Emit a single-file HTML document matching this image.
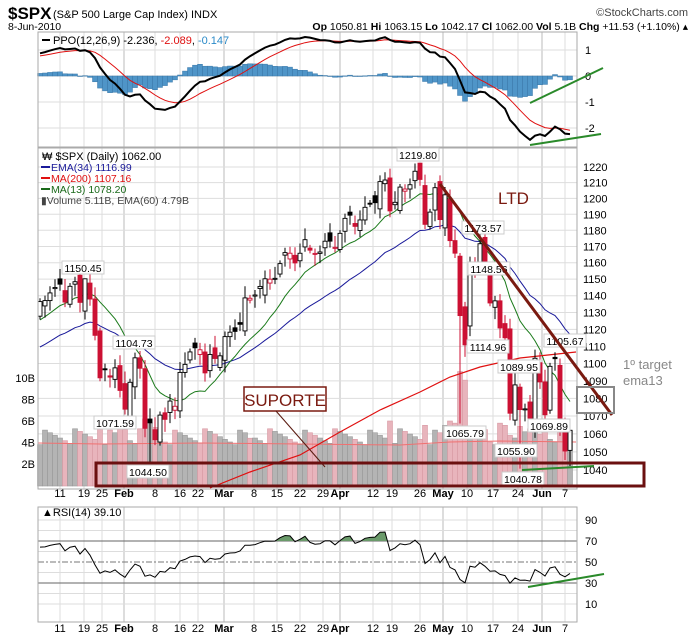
<!DOCTYPE html>
<html><head><meta charset="utf-8"><style>
body{margin:0;background:#fff;width:694px;height:639px;overflow:hidden}
svg{display:block;font-family:"Liberation Sans",sans-serif}
</style></head><body>
<svg id="s" width="694" height="639" viewBox="0 0 694 639" xmlns="http://www.w3.org/2000/svg">
<text x="8" y="19" font-size="17" font-weight="bold">$SPX</text>
<text x="53" y="18" font-size="11">(S&amp;P 500 Large Cap Index) INDX</text>
<text x="688" y="16" font-size="11" text-anchor="end" fill="#444">©StockCharts.com</text>
<text x="8" y="30" font-size="10.5">8-Jun-2010</text>
<text x="688" y="30" font-size="10.5" text-anchor="end"><tspan font-weight="bold">Op</tspan> 1050.81 <tspan font-weight="bold">Hi</tspan> 1063.15 <tspan font-weight="bold">Lo</tspan> 1042.17 <tspan font-weight="bold">Cl</tspan> 1062.00 <tspan font-weight="bold">Vol</tspan> 5.1B <tspan font-weight="bold">Chg</tspan> +11.53 (+1.10%) ▴</text>
<g id="g"></g>
</svg>
<script>
var C=[1136.5,1137.1,1141.7,1144.98,1146.98,1136.22,1145.68,1148.46,1136.03,1150.23,1138.04,1116.48,1091.76,1096.78,1092.17,1097.5,1084.53,1073.87,
1089.19,1103.32,1097.28,1063.11,1066.19,1056.74,1070.52,1068.13,1078.47,1075.51,1094.87,1099.51,1106.75,1109.17,1108.01,1094.6,1105.24,1102.94,1104.49,
1115.71,1118.31,1118.79,1122.97,1138.7,1138.5,1140.45,1145.61,1150.24,1149.99,1150.51,1159.46,1166.21,1165.83,1159.9,1165.81,1174.17,1167.72,1165.73,1166.59,1173.22,1173.27,1169.43,
1178.1,1187.44,1189.44,1182.45,1186.44,1194.37,1196.48,1197.3,1210.65,1211.67,1192.13,1197.52,1207.17,1205.94,1208.67,1217.28,1212.05,1183.71,1191.36,1206.78,1186.69,
1202.26,1173.6,1165.87,1128.15,1110.88,1159.73,1155.79,1171.67,1157.44,1135.68,1136.94,1120.8,1115.05,1071.59,1087.69,1073.65,1074.03,1067.95,1103.06,1089.41,
1070.71,1098.38,1102.83,1064.88,1050.47,1062.0];
var N=C.length,g='';
function X(i){return 40+5*i}
function Y(p){return 470-1898*Math.log(p/1040)}
var L=38,R=577;
var dl=[[60,'11'],[84,'19'],[102,'25'],[124,'Feb',1],[155,'8'],[180,'16'],[198,'22'],[224,'Mar',1],[254,'8'],[277,'15'],[300,'22'],[323,'29'],[340,'Apr',1],[373,'12'],[392,'19'],[420,'26'],[443,'May',1],[467,'10'],[493,'17'],[518,'24'],[542,'Jun',1],[565,'7']];
function vgrid(t,b){dl.forEach(function(d){g+='<line x1="'+d[0]+'" y1="'+t+'" x2="'+d[0]+'" y2="'+b+'" stroke="'+(d[2]?'#bbb':'#ddd')+'"/>';});}
vgrid(32,147);vgrid(148,489);vgrid(507,622);
for(var p=1040;p<=1220;p+=10){var y=Y(p);g+='<line x1="'+L+'" y1="'+y+'" x2="'+R+'" y2="'+y+'" stroke="#ddd"/><text x="583" y="'+(y+4)+'" font-size="11">'+p+'</text>';}
[[1,'1'],[0,'0'],[-1,'-1'],[-2,'-2']].forEach(function(v){var y=76-26*v[0];g+='<line x1="'+L+'" y1="'+y+'" x2="'+R+'" y2="'+y+'" stroke="#ddd"/><text x="585" y="'+(y+4)+'" font-size="11">'+v[1]+'</text>';});
[10,20,30,40,50,60,70,80,90].forEach(function(r){var y=614.5-1.05*r;var st=(r==70||r==30)?'stroke="#666"':(r==50?'stroke="#777" stroke-dasharray="6,2,2,2"':'stroke="#ddd"');g+='<line x1="'+L+'" y1="'+y+'" x2="'+R+'" y2="'+y+'" '+st+'/>';if(r%20==10)g+='<text x="585" y="'+(y+4)+'" font-size="11">'+r+'</text>';});
[[10,'10B'],[8,'8B'],[6,'6B'],[4,'4B'],[2,'2B']].forEach(function(v){var y=485.5-10.75*v[0];g+='<text x="35" y="'+(y+4)+'" font-size="11" text-anchor="end">'+v[1]+'</text>';});
var V=[];for(var i=0;i<N;i++){V.push(3.8+((i*37)%13)/13*1.6);}
[[21,6.2],[22,5.8],[23,5.4],[12,5.5],[16,5.3],[17,5.2],[81,5.6],[82,6.0],[83,5.8],[84,10.6],[85,9.8],[86,5.5],[89,5.2],[92,5.8],[93,5.6],[96,5.5],[97,5.0],[101,5.2],[104,5.6],[105,5.0],[106,5.1],[42,4.4],[70,6.0],[77,5.6]].forEach(function(a){V[a[0]]=a[1];});
for(var i=0;i<N;i++){var dn=i>0&&C[i]<C[i-1];var y=485.5-10.75*V[i];g+='<rect x="'+(X(i)-2.5)+'" y="'+y+'" width="5" height="'+(486-y)+'" fill="'+(dn?'#e8b4bc':'#b4b4b4')+'" stroke="'+(dn?'#d89aa4':'#999')+'" stroke-width="0.6"/>';}
g+='<polyline points="38,443 100,444 200,443 300,444 400,445 450,442 500,441 576,442" fill="none" stroke="#f07070" stroke-width="1"/>';
function ema(n,seed){var k=2/(n+1),e=seed,r=[];C.forEach(function(c){e=e+k*(c-e);r.push(e);});return r;}
var E34=ema(34,1108);var pad=[1112,1114,1116,1118,1121,1124,1126,1128,1131,1133,1135,1138];var all=pad.concat(C);var S13=[];
for(var i=0;i<N;i++){var s=0;for(var j=i;j<i+13;j++)s+=all[j];S13.push(s/13);}
function line(a,col,fy){var pts=a.map(function(v,i){return X(i)+','+fy(v).toFixed(1)}).join(' ');g+='<polyline points="'+pts+'" fill="none" stroke="'+col+'" stroke-width="1"/>';}
line(E34,'#1a1a9a',Y);line(S13,'#1a7a1a',Y);
g+='<polyline points="210,488 250,472 300,455 340,432 380,410 420,392 450,377 480,367 520,358 576,352" fill="none" stroke="#e01010" stroke-width="1.2"/>';
for(var i=0;i<N;i++){var pc=i?C[i-1]:1132.99,c=C[i];var o=pc+(((i*29)%9)-4)*1.3;if(i==84)o=1164;if(i==86)o=1122;if(i==21)o=1097;if(i==97)o=1074;if(i==105)o=1064;if(i==106)o=1050.81;
var hi=Math.max(o,c)+2+(i*13%6),lo=Math.min(o,c)-2-(i*17%6);
if(i==9)hi=1150.45;if(i==22)lo=1044.5;if(i==76)hi=1219.8;if(i==84)lo=1065.79;if(i==96)lo=1040.78;if(i==106){hi=1063.15;lo=1042.17}
var dn=c<pc,col=dn?'#cc1133':'#000',x=X(i);
g+='<line x1="'+x+'" y1="'+Y(hi)+'" x2="'+x+'" y2="'+Y(lo)+'" stroke="'+col+'"/>';
var t=Y(Math.max(o,c)),b=Y(Math.min(o,c));g+='<rect x="'+(x-2)+'" y="'+t+'" width="4" height="'+Math.max(1,b-t)+'" fill="'+(c<o?col:'#fff')+'" stroke="'+col+'" stroke-width="0.9"/>';}
var e12=1119,e26=1110,sg=0.75,P=[],S=[];C.forEach(function(c){e12+=2/13*(c-e12);e26+=2/27*(c-e26);var pp=(e12-e26)/e26*100;sg+=0.2*(pp-sg);P.push(pp);S.push(sg);});
function py(v){return 76-26*v}
for(var i=0;i<N;i++){var h=P[i]-S[i];var y1=py(Math.max(h,0)),y2=py(Math.min(h,0));g+='<rect x="'+(X(i)-2.5)+'" y="'+y1+'" width="5" height="'+Math.max(0.5,y2-y1)+'" fill="#4f95c8" stroke="#3a78a8" stroke-width="0.5"/>';}
line(S,'#e01010',py);g+='<polyline points="'+P.map(function(v,i){return X(i)+','+py(v).toFixed(1)}).join(' ')+'" fill="none" stroke="#000" stroke-width="2"/>';
var ag=6,al=3.5,RS=[];for(var i=0;i<N;i++){var d=C[i]-(i?C[i-1]:1133);ag=(ag*13+Math.max(d,0))/14;al=(al*13+Math.max(-d,0))/14;RS.push(100-100/(1+ag/al));}
function ry(v){return 614.5-1.05*v}
var pts=RS.map(function(v,i){return X(i)+','+ry(v).toFixed(1)});
g+='<clipPath id="cp"><rect x="38" y="500" width="540" height="'+(ry(70)-500)+'"/></clipPath><polygon clip-path="url(#cp)" points="38,'+ry(70)+' '+pts.join(' ')+' 576,'+ry(70)+'" fill="#6a9a6a"/>';
g+='<polyline points="'+pts.join(' ')+'" fill="none" stroke="#000" stroke-width="1"/>';
[[32,147],[148,489],[507,622]].forEach(function(b){g+='<rect x="'+L+'" y="'+b[0]+'" width="'+(R-L)+'" height="'+(b[1]-b[0])+'" fill="none" stroke="#aaa"/>';});
dl.forEach(function(d){['497','632'].forEach(function(yy){g+='<text x="'+d[0]+'" y="'+yy+'" font-size="11" text-anchor="middle"'+(d[2]?' font-weight="bold"':'')+'>'+d[1]+'</text>';});});
g+='<line x1="42" y1="40" x2="50" y2="40" stroke="#000" stroke-width="2"/><text x="53" y="44" font-size="11">PPO(12,26,9) -2.236, <tspan fill="#e01010">-2.089</tspan>, <tspan fill="#2a8ac8">-0.147</tspan></text>';
g+='<text x="42" y="160" font-size="11">₩ $SPX (Daily) 1062.00</text>';
[['#1a1a9a','EMA(34) 1116.99',171],['#e01010','MA(200) 1107.16',182],['#1a6a1a','MA(13) 1078.20',193]].forEach(function(a){g+='<line x1="41" y1="'+(a[2]-4)+'" x2="50" y2="'+(a[2]-4)+'" stroke="'+a[0]+'" stroke-width="2"/><text x="51" y="'+a[2]+'" font-size="10.5" fill="'+a[0]+'">'+a[1]+'</text>';});
g+='<text x="41" y="204" font-size="10.5" fill="#444">▮Volume 5.11B, EMA(60) 4.79B</text>';
g+='<text x="42" y="516" font-size="11">▲RSI(14) 39.10</text>';
[['1150.45',83,269],['1104.73',134,344],['1071.59',115,424],['1044.50',148,473],['1219.80',418,156],['1173.57',483,229],['1148.56',489,270],['1114.96',488,348],['1089.95',519,368],['1105.67',565,342],['1065.79',465,434],['1055.90',516,452],['1040.78',523,480],['1069.89',549,427]].forEach(function(a){g+='<rect x="'+(a[1]-21)+'" y="'+(a[2]-8)+'" width="42" height="13" fill="#fff" stroke="#ccc"/><text x="'+a[1]+'" y="'+(a[2]+3)+'" font-size="10.5" text-anchor="middle">'+a[0]+'</text>';});
g+='<line x1="530" y1="103" x2="603" y2="68" stroke="#2a8a2a" stroke-width="2"/><line x1="530" y1="145" x2="601" y2="134" stroke="#2a8a2a" stroke-width="2"/>';
g+='<line x1="440" y1="184" x2="612" y2="415" stroke="#7a1a10" stroke-width="3"/><text x="498" y="204" font-size="17" fill="#7a1a10">LTD</text>';
g+='<rect x="577" y="387" width="37" height="26" fill="none" stroke="#888" stroke-width="2"/><text x="623" y="369" font-size="13" fill="#888">1º target</text><text x="623" y="385" font-size="13" fill="#888">ema13</text>';
g+='<rect x="244" y="387" width="82" height="24" fill="#fff" stroke="#7a1a10" stroke-width="1.5"/><text x="285" y="406" font-size="17" fill="#7a1a10" text-anchor="middle">SUPORTE</text><line x1="276" y1="411" x2="325" y2="467" stroke="#5a1a10"/>';
g+='<rect x="96" y="463" width="548" height="23" fill="none" stroke="#6b1010" stroke-width="3"/>';
g+='<line x1="522" y1="470" x2="594" y2="466" stroke="#2a8a2a" stroke-width="2"/><line x1="528" y1="587" x2="604" y2="574" stroke="#2a8a2a" stroke-width="2"/>';
document.getElementById('g').innerHTML=g;
</script>
</body></html>
